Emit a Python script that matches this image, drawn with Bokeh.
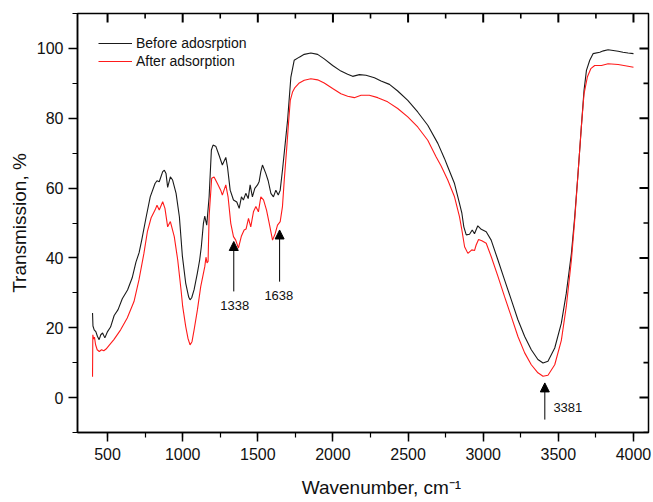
import math
from bokeh.plotting import figure
from bokeh.models import (LinearAxis, SingleIntervalTicker, Range1d, Legend, LegendItem,
                          Arrow, NormalHead, Label)
from bokeh.embed import file_html
from bokeh.resources import INLINE

# ---- data (wavenumber cm-1, transmission %) ----
before_x = [400, 403, 411, 422, 433, 444, 455, 467, 482, 500, 520, 544, 570, 598, 633, 664, 689,
            710, 727, 756, 784, 816, 829, 844, 867, 878, 889, 900, 918, 933, 956, 978, 998,
            1020, 1040, 1049, 1060, 1076, 1098, 1113, 1124, 1138, 1147, 1160, 1176, 1191, 1202,
            1220, 1242, 1264, 1287, 1298, 1316, 1338, 1360, 1376, 1391, 1404, 1420, 1436, 1449,
            1464, 1480, 1498, 1509, 1520, 1531, 1553, 1569, 1587, 1604, 1620, 1636, 1649, 1664,
            1680, 1698, 1720, 1742, 1776, 1809, 1853, 1898, 1942, 1998, 2053, 2098, 2131, 2176,
            2220, 2276, 2320, 2376, 2431, 2498, 2564, 2631, 2698, 2742, 2764, 2809, 2842, 2858,
            2871, 2887, 2909, 2927, 2942, 2964, 2987, 3020, 3053, 3098, 3142, 3187, 3231, 3276,
            3320, 3364, 3398, 3431, 3476, 3520, 3553, 3587, 3609, 3631, 3653, 3671, 3687, 3709,
            3731, 3776, 3800, 3831, 3865, 3898, 3930, 3964, 4000]
before_y = [24.2, 20.5, 19.4, 18.9, 17.5, 16.6, 18.0, 18.5, 17.1, 18.9, 20.2, 23.5, 25.2, 28.3,
            30.8, 34.3, 38.8, 41.5, 45.0, 51.5, 57.5, 61.3, 62.1, 61.8, 64.7, 65.1, 64.2, 60.2,
            63.2, 62.3, 58.5, 51.8, 40.5, 32.8, 28.8, 28.0, 28.6, 30.9, 35.7, 39.4, 43.2, 49.9,
            52.0, 49.4, 57.5, 70.9, 72.3, 72.0, 69.4, 66.6, 68.8, 66.1, 59.4, 56.6, 56.0, 54.2,
            57.5, 56.6, 58.5, 57.0, 60.9, 57.5, 59.9, 60.9, 61.9, 64.7, 66.6, 64.2, 62.1, 58.5,
            57.5, 59.4, 58.0, 59.4, 65.1, 71.8, 79.4, 91.8, 96.6, 97.5, 98.3, 98.7, 98.3, 97.0,
            95.1, 93.5, 92.6, 92.0, 92.5, 92.3, 91.6, 90.7, 89.7, 87.8, 85.1, 81.8, 78.0, 72.8,
            68.5, 66.1, 61.3, 55.6, 52.8, 48.9, 46.6, 46.8, 48.0, 46.9, 49.2, 48.2, 47.5, 45.1,
            39.4, 33.7, 28.0, 22.3, 17.5, 13.7, 10.9, 9.9, 10.4, 14.2, 21.3, 29.9, 41.3, 51.8,
            64.2, 77.5, 88.0, 93.7, 96.6, 98.5, 98.9, 99.3, 99.6, 99.4, 99.2, 98.9, 98.7, 98.5]

after_x = [400, 402, 407, 413, 420, 431, 445, 460, 475, 490, 509, 542, 587, 631, 676, 709, 742,
           765, 790, 816, 829, 844, 867, 882, 900, 918, 944, 967, 989, 1000, 1020, 1035, 1049,
           1062, 1076, 1098, 1120, 1147, 1155, 1162, 1169, 1176, 1193, 1209, 1231, 1253, 1264,
           1287, 1302, 1320, 1338, 1353, 1371, 1391, 1409, 1422, 1438, 1453, 1471, 1487, 1504,
           1520, 1538, 1558, 1576, 1598, 1616, 1631, 1649, 1664, 1676, 1693, 1705, 1716, 1731,
           1747, 1776, 1809, 1853, 1898, 1942, 1998, 2053, 2098, 2142, 2187, 2242, 2298, 2364,
           2431, 2498, 2564, 2631, 2687, 2720, 2764, 2809, 2842, 2858, 2876, 2898, 2924, 2942,
           2953, 2969, 2991, 3020, 3053, 3098, 3142, 3187, 3231, 3276, 3320, 3364, 3398, 3431,
           3476, 3520, 3553, 3587, 3609, 3631, 3653, 3671, 3693, 3716, 3742, 3787, 3831, 3898,
           3964, 4000]
after_y = [6.0, 18.0, 16.8, 17.3, 15.2, 13.7, 13.2, 13.7, 13.4, 13.9, 14.9, 16.6, 19.4, 22.8,
           27.5, 33.7, 41.3, 47.5, 51.5, 53.7, 55.1, 53.7, 56.1, 54.2, 48.9, 50.4, 46.1, 39.4,
           30.9, 26.1, 20.4, 17.0, 15.1, 16.0, 19.4, 25.1, 31.8, 37.5, 40.2, 38.6, 39.0, 52.0,
           62.8, 63.2, 61.3, 59.4, 58.0, 60.9, 57.5, 49.9, 46.1, 45.1, 42.8, 46.3, 48.0, 48.3,
           51.3, 48.9, 53.2, 54.7, 53.2, 57.5, 56.6, 53.7, 49.9, 45.1, 47.0, 49.4, 50.4, 54.7,
           62.3, 71.8, 79.0, 85.1, 87.5, 88.8, 90.1, 90.9, 91.3, 91.0, 90.1, 88.5, 87.0, 86.3,
           85.9, 86.6, 86.6, 85.9, 84.7, 82.8, 80.4, 77.5, 73.7, 68.9, 66.3, 62.3, 57.5, 51.8,
           48.0, 43.2, 41.3, 42.3, 42.1, 43.7, 45.3, 44.9, 44.2, 40.4, 34.7, 28.9, 23.2, 17.5,
           12.8, 9.4, 7.1, 6.1, 6.4, 9.4, 16.4, 26.1, 39.4, 50.9, 64.2, 77.5, 87.0, 91.8, 94.2,
           95.1, 95.1, 95.6, 95.4, 94.9, 94.6]

series_names = ["Before adosrption", "After adsorption"]
x_min, x_max = 300, 4100
y_min, y_max = -10, 110
x_ticks_interval = 500
y_ticks_interval = 20
# mirrored tick positions for the top and right frame edges
x_major_ticks = [500, 1000, 1500, 2000, 2500, 3000, 3500, 4000]
x_minor_ticks = [750, 1250, 1750, 2250, 2750, 3250, 3750]
y_major_ticks = [0, 20, 40, 60, 80, 100]
y_minor_ticks = [-10, 10, 30, 50, 70, 90]

# annotations
peak_labels = ["1338", "1638", "3381"]
peak_arrow_x = [1340, 1645, 3410]
peak_arrow_y0 = [30.4, 33.2, -6.3]
peak_arrow_y1 = [44.7, 48.0, 4.2]
peak_text_x = [1347, 1640, 3467]
peak_text_y = [26.3, 29.3, -2.9]
peak_text_align = ["center", "center", "left"]

FONT = "Liberation Sans"
MAJ, MIN = 9, 5  # tick lengths in pixels

p = figure(width=653, height=502, output_backend="svg", toolbar_location=None,
           x_range=Range1d(x_min, x_max), y_range=Range1d(y_min, y_max),
           x_axis_type=None, y_axis_type=None,
           min_border_left=77, min_border_right=5, min_border_top=13, min_border_bottom=70)
p.outline_line_color = "black"
p.outline_line_width = 1.5

# inward ticks on the top and right edges of the frame (rays of fixed pixel length)
p.ray(x=x_major_ticks, y=[y_max - 0.01] * len(x_major_ticks), length=MAJ, length_units="screen",
      angle=-math.pi / 2, line_color="black", line_width=2)
p.ray(x=x_minor_ticks, y=[y_max - 0.01] * len(x_minor_ticks), length=MIN, length_units="screen",
      angle=-math.pi / 2, line_color="black", line_width=1.6)
p.ray(x=[x_max - 0.1] * len(y_major_ticks), y=y_major_ticks, length=MAJ, length_units="screen",
      angle=math.pi, line_color="black", line_width=2)
p.ray(x=[x_max - 0.1] * len(y_minor_ticks), y=y_minor_ticks, length=MIN, length_units="screen",
      angle=math.pi, line_color="black", line_width=1.6)


def style_axis(ax):
    ax.axis_line_color = "black"
    ax.axis_line_width = 1.5
    ax.major_tick_line_color = "black"
    ax.minor_tick_line_color = "black"
    ax.major_tick_line_width = 1.5
    ax.minor_tick_line_width = 1.2
    ax.major_tick_in, ax.major_tick_out = 0, MAJ
    ax.minor_tick_in, ax.minor_tick_out = 0, MIN
    ax.major_label_text_font = FONT
    ax.major_label_text_font_size = "16px"
    ax.major_label_text_color = "#111111"
    ax.axis_label_text_font = FONT
    ax.axis_label_text_font_size = "19px"
    ax.axis_label_text_font_style = "normal"
    ax.axis_label_text_color = "#111111"


xb = LinearAxis(ticker=SingleIntervalTicker(interval=x_ticks_interval, num_minor_ticks=2),
                axis_label="\u00a0" * 7 + "Wavenumber, cm\u207b\u00b9")
style_axis(xb)
xb.major_label_standoff = 6
xb.axis_label_standoff = 14
p.add_layout(xb, "below")

yl = LinearAxis(ticker=SingleIntervalTicker(interval=y_ticks_interval, num_minor_ticks=2),
                axis_label="Transmission, %")
style_axis(yl)
yl.major_label_standoff = 5
yl.axis_label_standoff = 4
p.add_layout(yl, "left")

r1 = p.line(before_x, before_y, line_color="#1a1a1a", line_width=1.1)
r2 = p.line(after_x, after_y, line_color="#ff1a1a", line_width=1.1)

legend = Legend(items=[LegendItem(label=series_names[0], renderers=[r1]),
                       LegendItem(label=series_names[1], renderers=[r2])],
                location="top_left")
legend.margin = 0
legend.padding = 21
legend.spacing = 0
legend.glyph_width = 34
legend.glyph_height = 18
legend.label_height = 18
legend.label_standoff = 4
legend.label_text_font = FONT
legend.label_text_font_size = "14px"
legend.label_text_color = "#111111"
legend.background_fill_alpha = 0
legend.border_line_alpha = 0
p.add_layout(legend)

for i in range(len(peak_labels)):
    p.add_layout(Arrow(end=NormalHead(size=9, fill_color="black", line_color="black", line_width=1),
                       x_start=peak_arrow_x[i], y_start=peak_arrow_y0[i],
                       x_end=peak_arrow_x[i], y_end=peak_arrow_y1[i],
                       line_color="black", line_width=1))
    p.add_layout(Label(x=peak_text_x[i], y=peak_text_y[i], text=peak_labels[i],
                       text_align=peak_text_align[i], text_baseline="middle",
                       text_font=FONT, text_font_size="13px", text_color="#111111"))

open("out.html", "w").write(file_html(p, INLINE))
